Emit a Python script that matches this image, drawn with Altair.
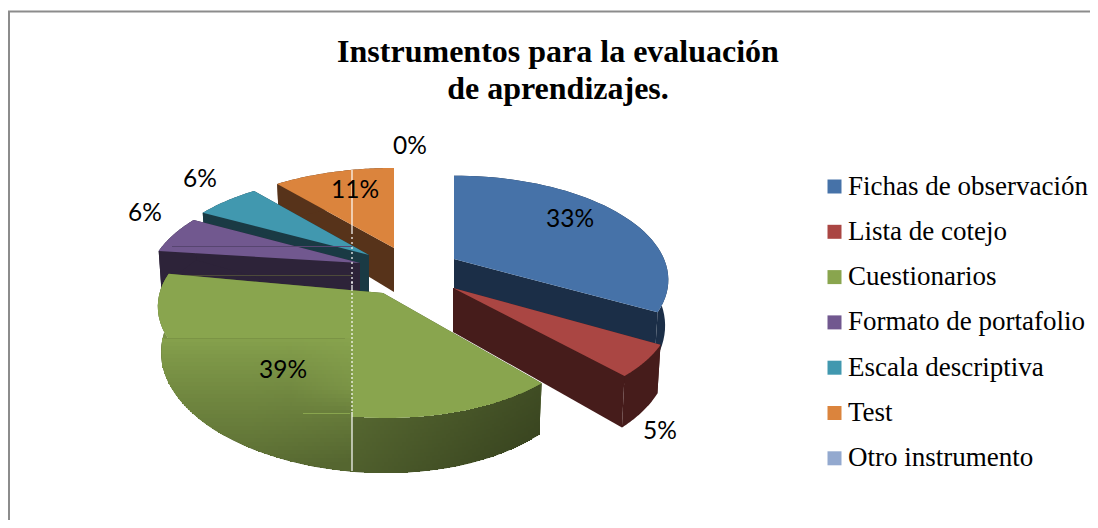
import math
import numpy as np
import pandas as pd
import altair as alt

categories = ["Fichas de observación", "Lista de cotejo", "Cuestionarios",
              "Formato de portafolio", "Escala descriptiva", "Test", "Otro instrumento"]
percent = [33, 5, 39, 6, 6, 11, 0]
colors = ["#4672A8", "#AA4643", "#89A54E", "#71588F", "#4198AF", "#DB843D", "#93A9CF"]
wall_colors = ["#1B2E47", "#461C1B", "#48562A", "#2D2339", "#1A3A44", "#57331A", "#93A9CF"]
title_lines = ["Instrumentos para la evaluación", "de aprendizajes."]

# layout of the drawing (page pixels)
apex_x = [454, 453, 375, 360, 369, 394, 400]
apex_y = [259, 288, 293, 263, 255, 248, 250]
tip_x = [454, 453, 383, 360, 369, 394, 400]
radius_x = [210, 214, 208, 208, 208, 208, 208]
radius_y = [100, 100, 100, 98, 96, 96, 100]
shear = [0, 4, 7, 0, 0, 0, 0]
left_bulge = [0, 0, 5, 0, 0, 3, 0]
label_x = [570, 660, 283, 145, 200, 355, 410]
label_y = [220, 432, 371, 214, 180, 191, 147]
draw_order = [5, 4, 3, 0, 1, 2]
PERSP, DEPTH = 0.2, 44
W, H = 1082, 512
xs = alt.Scale(domain=[8, 8 + W], range=[0, W], nice=False, zero=False)
ys = alt.Scale(domain=[8, 8 + H], range=[0, H], nice=False, zero=False)
X = alt.X("x:Q", scale=xs, axis=None)
Y = alt.Y("y:Q", scale=ys, axis=None)


def top(i, th):
    u, v = math.sin(th), -math.cos(th)
    s = 1 / (1 - PERSP * v)
    return (apex_x[i] + radius_x[i] * u * s + left_bulge[i] * min(u, 0),
            apex_y[i] + radius_y[i] * v * s + shear[i] * u)


def bottom(i, th):
    u, v = math.sin(th), -math.cos(th)
    s = 1 / (1 - PERSP * v)
    return (apex_x[i] + 0.985 * radius_x[i] * u * s + left_bulge[i] * min(u, 0),
            apex_y[i] + radius_y[i] * v * s + shear[i] * u + DEPTH * s)


def poly(points, **extra):
    return pd.DataFrame([dict(x=p[0], y=p[1], i=k, **extra) for k, p in enumerate(points)])


def wall(points, color):
    return alt.Chart(poly(points)).mark_line(filled=True, strokeWidth=0, fill=color).encode(
        x=X, y=Y, order="i:Q")


starts = np.cumsum([0] + percent[:-1]) / 100 * 2 * math.pi
ends = np.cumsum(percent) / 100 * 2 * math.pi
layers = []

legend = alt.Legend(title=None, orient="none", legendX=811, legendY=165, symbolType="square",
                    symbolSize=196, symbolStrokeWidth=0, symbolOffset=2,
                    labelFont="Liberation Serif", labelFontSize=27, labelColor="#000000",
                    rowPadding=17.3, labelOffset=0, labelLimit=300, symbolOpacity=1)
fill_enc = alt.Fill("cat:N", scale=alt.Scale(domain=categories, range=colors), legend=legend)


def streak(x1, x2, y, color, width=1):
    return alt.Chart(pd.DataFrame({"x": [x1], "x2": [x2], "y": [y]})).mark_rule(
        color=color, strokeWidth=width).encode(x=X, x2="x2:Q", y=Y)


for idx in draw_order:
    a, b = starts[idx], ends[idx]
    ths = np.linspace(a, b, 48)
    ax, ay = tip_x[idx], apex_y[idx]
    apex_bot = (ax, ay + DEPTH)
    tops = [top(idx, t) for t in ths]
    bots = [bottom(idx, t) for t in ths]
    wc = wall_colors[idx]
    layers.append(wall([(ax, ay), tops[0], bots[0], apex_bot], wc))
    layers.append(wall([(ax, ay), tops[-1], bots[-1], apex_bot], wc))
    layers.append(wall(tops + bots[::-1], wc))
    if idx == 2:
        # the near-left end of the green side wall is light, not dark
        side = [k for k, t in enumerate(ths) if t > math.radians(215)]
        layers.append(wall([tops[k] for k in side] + [bots[k] for k in side[::-1]], "#7a9145"))
        leftmost = int(np.argmin([p[0] for p in bots]))
        order_b = sorted(bots[:leftmost + 1])
        bx = [p[0] for p in order_b]
        by = [p[1] for p in order_b]
        order_t = sorted(tops[:30])
        tx = [p[0] for p in order_t]
        ty = [p[1] for p in order_t]
    layers.append(alt.Chart(poly([(ax, ay)] + tops, cat=categories[idx])).mark_line(
        filled=True, strokeWidth=0).encode(x=X, y=Y, order="i:Q", fill=fill_enc))
    if idx == 3:
        layers.append(streak(172, 352, 246.5, "#574570"))
        layers.append(streak(186, 352, 275.5, "#4d4a3a"))


def mix(c1, c2, f):
    f = max(0.0, min(1.0, f))
    return "#%02x%02x%02x" % tuple(int(round(p + (q - p) * f)) for p, q in zip(c1, c2))


# shading of the green slice
light, mid, dark = (0x89, 0xA5, 0x4E), (0x55, 0x66, 0x30), (0x36, 0x41, 0x1E)
cells = []
for col in range(146, 546, 2):
    if col + 1 < bx[0] or col + 1 > bx[-1]:
        continue
    low = float(np.interp(col + 1, bx, by))
    if col < 352:
        row = 338
        while row < low:
            next_row = min(row + 4, round(low))
            depth_f = (row - 338) / 125
            f = 0.08 + depth_f ** 0.9 * 0.8
            g = max(0.0, (col - 290) / 62)
            h = max(0.0, min(1.0, (415 - row) / 30))
            f *= 1 - 0.5 * g * h
            f += 0.15 * max(0, col - 250) / 100 * depth_f
            if next_row > row:
                cells.append(dict(x=col, x2=col + 2, y=row, y2=next_row, c=mix(light, mid, f)))
            row += 4
    else:
        row = round(float(np.interp(col + 1, tx, ty)))
        while row < low:
            next_row = min(row + 4, round(low))
            f = (col - 352) / 190 * 0.85 + 0.2 * (row - 420) / 50
            if next_row > row:
                cells.append(dict(x=col, x2=col + 2, y=row, y2=next_row, c=mix(mid, dark, f)))
            row += 4
layers.append(alt.Chart(pd.DataFrame(cells)).mark_rect(strokeWidth=0).encode(
    x=X, x2="x2:Q", y=Y, y2="y2:Q", fill=alt.Fill("c:N", scale=None, legend=None)))
layers.append(streak(164, 345, 338.5, "#7b9445"))
layers.append(streak(303, 350, 413.5, "#89A54E"))


# white hairline through the drawing
def vline(y1, y2, dash=None):
    kw = dict(color="#FFFFFF", strokeWidth=1.2)
    if dash:
        kw["strokeDash"] = dash
    return alt.Chart(pd.DataFrame({"x": [352], "y": [y1], "y2": [y2]})).mark_rule(**kw).encode(
        x=X, y=Y, y2="y2:Q")


layers += [vline(170, 232), vline(232, 290, [2, 3]), vline(281, 412, [2, 2]), vline(412, 471)]

# percentage labels
labels = pd.DataFrame({"x": label_x, "y": label_y, "t": [f"{p}%" for p in percent]})
layers.append(alt.Chart(labels).mark_text(font="Lato", fontSize=24.5, color="#000000",
                                          align="center", baseline="middle").encode(
    x=X, y=Y, text="t:N"))

# outer frame
layers.append(alt.Chart(pd.DataFrame({"x": [8], "y": [11.5], "x2": [1090]})).mark_rule(
    color="#8C8C8C", strokeWidth=2).encode(x=X, x2="x2:Q", y=Y))
layers.append(alt.Chart(pd.DataFrame({"x": [9], "y": [11], "y2": [520]})).mark_rule(
    color="#8C8C8C", strokeWidth=2).encode(x=X, y=Y, y2="y2:Q"))

chart = alt.layer(*layers).properties(
    width=W, height=H, padding=0, autosize=alt.AutoSizeParams(type="none"),
    title=alt.TitleParams(text=title_lines, font="Liberation Serif", fontSize=32, fontWeight="bold",
                          color="#000000", anchor="middle", dx=9, offset=-123, lineHeight=37.5,
                          baseline="alphabetic"),
).configure_view(stroke=None)

chart.save("out.html", embed_options={"renderer": "svg", "actions": False})
